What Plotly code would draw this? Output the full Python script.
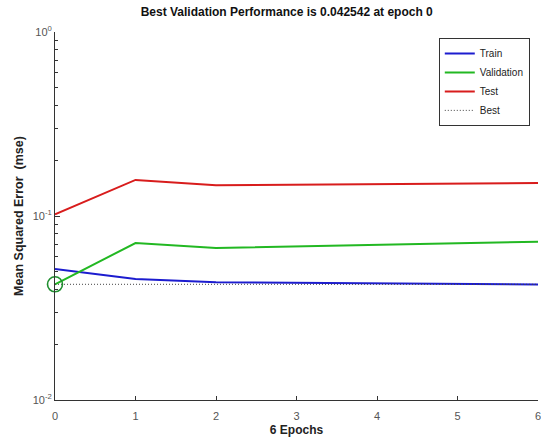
import plotly.graph_objects as go

epochs = [0, 1, 2, 3, 4, 5, 6]
train = [0.0515, 0.0455, 0.0437, 0.0433, 0.0430, 0.0427, 0.0424]
validation = [0.042542, 0.0713, 0.0670, 0.0685, 0.0697, 0.0710, 0.0725]
test = [0.1020, 0.1570, 0.1470, 0.1480, 0.1490, 0.1500, 0.1510]
best_epoch = 0
best_value = 0.042542

y_major = [0.01, 0.1, 1]
y_major_text = ["10<sup>-2</sup>", "10<sup>-1</sup>", "10<sup>0</sup>"]
y_minor = [m * 10 ** e for e in (-2, -1) for m in range(2, 10)]

fig = go.Figure()
fig.add_trace(go.Scatter(x=epochs, y=train, mode="lines", name="Train",
                         line=dict(color="#1c1ccf", width=2)))
fig.add_trace(go.Scatter(x=epochs, y=validation, mode="lines", name="Validation",
                         line=dict(color="#22b822", width=2)))
fig.add_trace(go.Scatter(x=epochs, y=test, mode="lines", name="Test",
                         line=dict(color="#d81c1c", width=2)))
fig.add_trace(go.Scatter(x=[epochs[0], epochs[-1]], y=[best_value, best_value],
                         mode="lines", name="Best",
                         line=dict(color="#444444", width=1, dash="1px,2px")))
fig.add_trace(go.Scatter(x=[best_epoch], y=[best_value], mode="markers",
                         showlegend=False, cliponaxis=False,
                         marker=dict(symbol="circle-open", size=15,
                                     color="#1f8f2f", line=dict(width=1.6))))
# invisible trace that carries the minor-tick axis
fig.add_trace(go.Scatter(x=[best_epoch], y=[best_value], yaxis="y2",
                         mode="markers", showlegend=False, hoverinfo="skip",
                         marker=dict(size=1, opacity=0)))

fig.update_layout(
    width=541, height=443,
    margin=dict(l=55, r=3, t=32, b=43, autoexpand=False),
    plot_bgcolor="white", paper_bgcolor="white",
    font=dict(family="Liberation Sans, Arial, sans-serif", size=11, color="#222"),
    title=dict(text="<b>Best Validation Performance is 0.042542 at epoch 0</b>",
               x=0.53, xanchor="center", xref="container",
               y=0.973, yanchor="middle", yref="container", automargin=False,
               font=dict(size=12, color="#111")),
    showlegend=True,
    legend=dict(x=0.983, y=0.984, xanchor="right", yanchor="top",
                bgcolor="white", bordercolor="#333", borderwidth=1,
                font=dict(size=10, color="#222"), tracegroupgap=0,
                itemwidth=30),
    xaxis=dict(range=[0, 6], tickvals=epochs, ticks="inside", ticklen=4,
               tickcolor="#333", showline=True, linecolor="#333", linewidth=1,
               showgrid=False, zeroline=False, automargin=False,
               ticklabelstandoff=6, ticklabeloverflow="allow",
               tickfont=dict(size=11, color="#555"),
               title=dict(text="<b>6 Epochs</b>", font=dict(size=12, color="#222"),
                          standoff=4)),
    yaxis=dict(type="log", range=[-2, 0], tickvals=y_major, ticktext=y_major_text,
               ticks="inside", ticklen=5, tickcolor="#333",
               showline=True, linecolor="#333", linewidth=1,
               showgrid=False, zeroline=False, automargin=False,
               tickfont=dict(size=11, color="#555"),
               title=dict(text="<b>Mean Squared Error  (mse)</b>",
                          font=dict(size=12.5, color="#222"), standoff=6)),
    yaxis2=dict(type="log", range=[-2, 0], overlaying="y", side="left",
                anchor="x", tickmode="array", tickvals=y_minor,
                showticklabels=False, ticks="inside", ticklen=3,
                tickcolor="#333", showline=False, showgrid=False,
                zeroline=False, automargin=False),
)

fig.write_html("out.html", config={"displayModeBar": False},
               post_script="document.body.style.margin='0';")
